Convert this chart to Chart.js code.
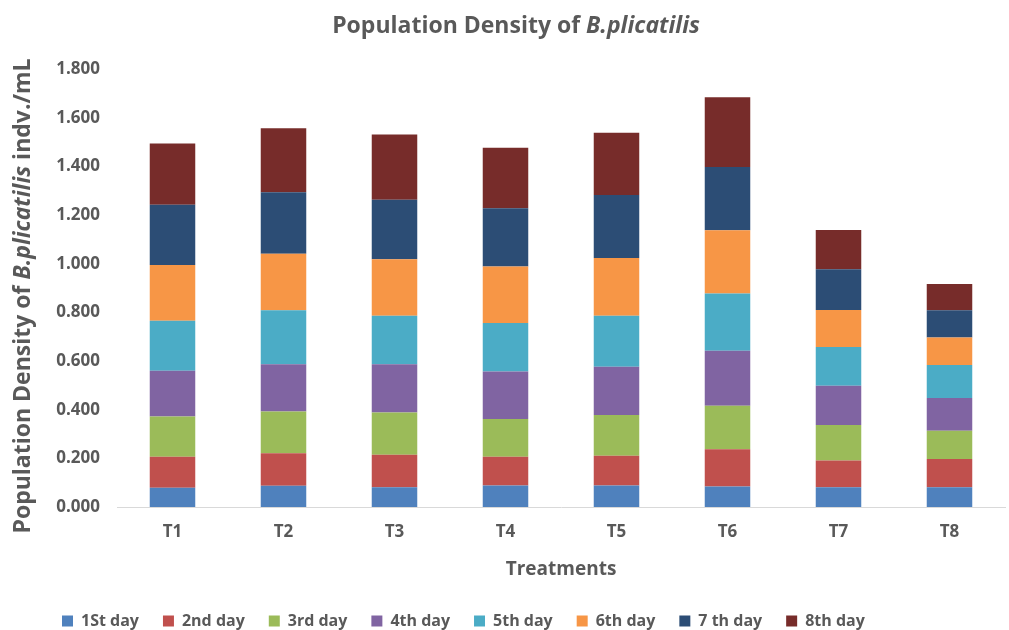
<!DOCTYPE html>
<html><head><meta charset="utf-8">
<script src="https://cdn.jsdelivr.net/npm/chart.js@4/dist/chart.umd.min.js"></script>
<style>html,body{margin:0;padding:0;background:#fff}#wrap{width:1009px;height:630px}</style>
</head><body><div id="wrap"><canvas id="c" width="1009" height="630"></canvas></div>
<script>
const categories = ['T1','T2','T3','T4','T5','T6','T7','T8'];
const seriesNames = ['1St day','2nd day','3rd day','4th day','5th day','6th day','7 th day','8th day'];
const seriesColors = ['#4F81BD','#C0504D','#9BBB59','#8064A2','#4BACC6','#F79646','#2C4D75','#772C2A'];
const day1 = [0.079,0.087,0.081,0.088,0.088,0.084,0.081,0.081];
const day2 = [0.128,0.134,0.134,0.119,0.123,0.153,0.110,0.116];
const day3 = [0.165,0.171,0.173,0.155,0.167,0.179,0.146,0.116];
const day4 = [0.188,0.195,0.199,0.195,0.198,0.226,0.161,0.135];
const day5 = [0.205,0.222,0.199,0.199,0.210,0.235,0.160,0.136];
const day6 = [0.230,0.232,0.232,0.232,0.237,0.260,0.152,0.113];
const day7 = [0.247,0.253,0.245,0.240,0.259,0.260,0.167,0.112];
const day8 = [0.252,0.263,0.268,0.248,0.256,0.287,0.161,0.107];
const yTickValues = [0,0.2,0.4,0.6,0.8,1.0,1.2,1.4,1.6,1.8];
const titleMain = 'Population Density of ';
const titleItalic = 'B.plicatilis';
const yTitleAfter = ' indv./mL';
const xTitle = 'Treatments';

const allSeries = [day1,day2,day3,day4,day5,day6,day7,day8];
const FONT = "'Open Sans', sans-serif";
const TXT = '#595959';

const textPlugin = {
  id: 'richText',
  afterDraw(chart) {
    const ctx = chart.ctx;
    ctx.save();
    ctx.fillStyle = TXT;
    ctx.textBaseline = 'middle';
    ctx.textAlign = 'left';
    // Title
    const f1 = "bold 23px " + FONT, f2 = "italic bold 23px " + FONT;
    ctx.font = f1; const w1 = ctx.measureText(titleMain).width;
    ctx.font = f2; const w2 = ctx.measureText(titleItalic).width;
    const x = 516 - (w1 + w2) / 2;
    ctx.font = f1; ctx.fillText(titleMain, x, 26);
    ctx.font = f2; ctx.fillText(titleItalic, x + w1, 26);
    // Y title (rotated)
    const g1 = "bold 23px " + FONT, g2 = "italic bold 23px " + FONT;
    ctx.font = g1; const a = ctx.measureText(titleMain).width;
    ctx.font = g2; const b = ctx.measureText(titleItalic).width;
    ctx.font = g1; const c = ctx.measureText(yTitleAfter).width;
    ctx.translate(23, 296);
    ctx.rotate(-Math.PI / 2);
    const sx = -(a + b + c) / 2;
    ctx.font = g1; ctx.fillText(titleMain, sx, 0);
    ctx.font = g2; ctx.fillText(titleItalic, sx + a, 0);
    ctx.font = g1; ctx.fillText(yTitleAfter, sx + a + b, 0);
    ctx.restore();
  }
};

new Chart(document.getElementById('c'), {
  type: 'bar',
  data: {
    labels: categories,
    datasets: allSeries.map((d, i) => ({
      label: seriesNames[i],
      data: d,
      backgroundColor: seriesColors[i],
      borderWidth: 0,
      categoryPercentage: 1.0,
      barPercentage: 0.41
    }))
  },
  options: {
    responsive: false,
    animation: false,
    layout: { padding: { top: 69, left: 38, right: 4, bottom: -9 } },
    plugins: {
      title: { display: false },
      tooltip: { enabled: false },
      legend: {
        position: 'bottom',
        align: 'start',
        labels: {
          color: TXT,
          font: { family: FONT, size: 16, weight: 'bold' },
          boxWidth: 11, boxHeight: 11, padding: 24
        }
      }
    },
    scales: {
      x: {
        stacked: true,
        afterFit(s) { s.height = 82; },
        grid: { display: false },
        border: { color: '#D9D9D9', width: 1 },
        ticks: { color: TXT, font: { family: FONT, size: 17, weight: 'bold' }, padding: 7 },
        title: { display: true, text: xTitle, color: TXT, font: { family: FONT, size: 19, weight: 'bold' }, padding: { top: 4, bottom: 8 } }
      },
      y: {
        stacked: true,
        min: 0, max: 1.8,
        afterFit(s) { s.width = 79; },
        afterBuildTicks(s) { s.ticks = yTickValues.map(v => ({ value: v })); },
        grid: { display: false },
        border: { display: false },
        ticks: { color: TXT, font: { family: FONT, size: 17, weight: 'bold' }, padding: 9, callback: v => Number(v).toFixed(3) }
      }
    }
  },
  plugins: [textPlugin]
});
</script></body></html>
